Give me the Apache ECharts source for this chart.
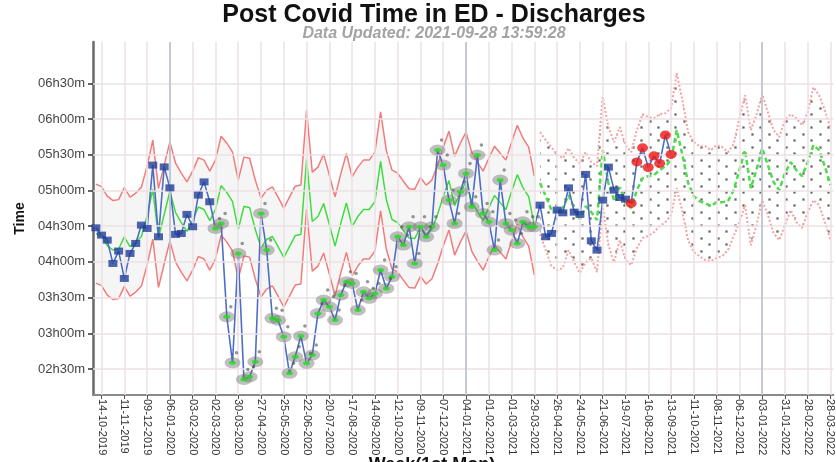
<!DOCTYPE html>
<html><head><meta charset="utf-8">
<script src="https://cdn.jsdelivr.net/npm/echarts@6.0.0/dist/echarts.min.js"></script>
<style>html,body{margin:0;padding:0;background:#fff}#c{width:836px;height:462px}</style>
</head><body><div id="c"></div>
<script>
// ---------- data ----------
const firstWeekUTC = [2019, 9, 7];      // 07-10-2019 (Monday)
const weekCount = 130;                   // up to 28-03-2022
const xTickLabels = ['14-10-2019','11-11-2019','09-12-2019','06-01-2020','03-02-2020','02-03-2020','30-03-2020','27-04-2020','25-05-2020','22-06-2020','20-07-2020','17-08-2020','14-09-2020','12-10-2020','09-11-2020','07-12-2020','04-01-2021','01-02-2021','01-03-2021','29-03-2021','26-04-2021','24-05-2021','21-06-2021','19-07-2021','16-08-2021','13-09-2021','11-10-2021','08-11-2021','06-12-2021','03-01-2022','31-01-2022','28-02-2022','28-03-2022'];
const yearMarkers = ['06-01-2020','04-01-2021','03-01-2022'];
const yTickMinutes = [150,180,210,240,270,300,330,360,390];

// weekly mean time in ED (minutes)
const actual = [268.6,262.5,258.3,238.7,249.1,226.1,247.1,255.5,270.9,268.1,
321.3,261.1,319.8,302.2,263.1,263.9,279.9,269.5,296.1,307.2,
290.5,268.1,272.3,193.9,155.3,247.1,141.3,143.5,156.1,280.7,
249.9,192.6,191.0,177.1,146.4,160.3,177.7,154.8,161.7,196.7,
207.9,202.3,191.1,212.1,223.3,221.9,199.5,214.9,209.4,213.5,
233.1,217.7,227.5,261.1,254.1,269.5,238.7,269.5,261.1,269.5,
333.9,321.3,291.9,272.3,298.9,314.3,286.3,329.7,280.7,273.7,
249.9,308.7,272.3,266.7,255.5,273.7,269.5,269.5,287.7,261.1,
263.9,283.5,281.2,302.2,281.8,279.9,313.5,257.7,249.9,291.9,
319.6,300.3,294.1,292.7,289.1,324.0,335.8,319.3,329.1,322.7,
346.5,330.3];
const lowSignalRange = [21, 77];    // grey halo + green dot points
const highSignalRange = [94, 101];  // red points

// historical control limits (weeks 0..77)
const histUpper = [305.3,303.2,295.2,291.5,292.3,302.5,294.4,297.8,302.8,320.4,
342.3,301.7,321.3,340.8,322.9,314.5,307.2,316.2,327.6,325.5,
316.2,325.5,345.6,339.7,332.2,308.7,328.0,327.1,308.7,293.6,
300.3,303.0,294.4,285.2,294.4,303.6,304.5,367.4,315.4,319.6,
330.5,312.9,294.7,313.7,331.1,311.4,319.6,325.5,325.5,332.2,
366.0,333.9,317.1,314.5,307.8,301.5,301.1,310.9,304.5,308.7,
321.3,336.4,349.8,328.8,339.7,349.0,332.2,323.8,316.2,327.1,
337.2,331.3,325.5,340.6,354.8,343.9,336.4,312.0];
const histMean = [263.8,261.7,253.7,250.0,250.8,261.0,252.9,256.3,261.3,278.9,
300.8,260.2,279.8,299.3,281.4,273.0,265.7,274.7,286.1,284.0,
274.7,284.0,304.1,298.2,290.7,267.2,286.5,285.6,267.2,252.1,
258.8,261.5,252.9,243.7,252.9,262.1,263.0,325.9,273.9,278.1,
289.0,271.4,253.2,272.2,289.6,269.9,278.1,284.0,284.0,290.7,
324.5,292.4,275.6,273.0,266.3,260.0,259.6,269.4,263.0,267.2,
279.8,294.9,308.3,287.3,298.2,307.5,290.7,282.3,274.7,285.6,
295.7,289.8,284.0,299.1,313.3,302.4,294.9,270.5];
const histLower = [222.2,220.1,212.1,208.4,209.2,219.4,211.3,214.7,219.7,237.3,
259.2,218.6,238.2,257.7,239.8,231.4,224.1,233.1,244.5,242.4,
233.1,242.4,262.5,256.6,249.1,225.6,244.9,244.0,225.6,210.5,
217.2,219.9,211.3,202.1,211.3,220.5,221.4,284.3,232.3,236.5,
247.4,229.8,211.6,230.6,248.0,228.3,236.5,242.4,242.4,249.1,
282.9,250.8,234.0,231.4,224.7,218.4,218.0,227.8,221.4,225.6,
238.2,253.3,266.7,245.7,256.6,265.9,249.1,240.7,233.1,244.0,
254.1,248.2,242.4,257.5,271.7,260.8,253.3,228.9];

// forecast limits (weeks 78..129)
const fcUpper = [349.0,342.3,336.4,329.7,327.1,335.5,327.1,322.9,332.2,323.8,
320.4,378.4,353.2,340.6,353.2,338.1,332.2,350.7,364.1,361.6,
360.7,364.1,364.9,369.1,398.5,375.8,349.0,340.6,337.2,337.2,
333.9,338.1,336.4,332.2,338.9,360.7,380.0,350.7,363.2,380.9,
365.8,350.7,344.8,359.0,364.1,360.7,354.9,365.8,386.8,380.0,
367.4,352.3];
const fcMean = [306.2,295.2,283.5,281.8,285.2,296.1,285.2,275.9,286.8,281.8,
275.1,333.9,306.2,291.9,302.8,289.4,285.2,300.3,310.3,312.0,
312.9,317.1,320.4,325.5,350.7,329.7,306.2,295.2,291.0,289.4,
286.8,290.2,290.2,291.0,300.3,317.1,333.9,302.0,317.1,335.5,
321.3,307.0,300.3,314.5,323.8,317.1,312.0,323.8,338.1,333.9,
320.4,304.5];
const fcLower = [263.3,249.9,236.5,233.1,234.8,249.9,239.8,230.6,239.8,243.2,
231.4,287.7,254.1,239.8,258.3,241.5,237.3,251.6,260.0,261.7,
265.0,270.1,273.4,279.3,302.0,281.8,258.3,248.2,244.9,241.5,
240.7,243.2,244.9,249.9,261.7,273.4,287.7,254.1,270.9,291.9,
279.3,264.2,258.3,270.9,283.5,273.4,268.4,281.8,291.9,287.7,
273.4,258.3];

// ---------- helpers ----------
const pad2 = n => (n < 10 ? '0' : '') + n;
const categories = [];
const t0 = Date.UTC(firstWeekUTC[0], firstWeekUTC[1], firstWeekUTC[2]);
for (let i = 0; i < weekCount; i++) {
  const d = new Date(t0 + i * 7 * 86400000);
  categories.push(pad2(d.getUTCDate()) + '-' + pad2(d.getUTCMonth() + 1) + '-' + d.getUTCFullYear());
}
const tickSet = new Set(xTickLabels);
const nulls = n => Array(n).fill(null);
const head = arr => arr.concat(nulls(weekCount - arr.length));
const tail = arr => nulls(weekCount - arr.length).concat(arr);
const fmtTime = v => { const h = Math.floor(v / 60); const m = Math.round(v - h * 60); return pad2(h) + 'h' + pad2(m) + 'm'; };
const inRange = (i, r) => i >= r[0] && i <= r[1];

const normalPts = [], lowPts = [], highPts = [];
actual.forEach((v, i) => {
  if (inRange(i, lowSignalRange)) lowPts.push([i, v]);
  else if (inRange(i, highSignalRange)) highPts.push([i, v]);
  else normalPts.push([i, v]);
});

function dotPattern() {
  const c = document.createElement('canvas');
  c.width = 17; c.height = 13;
  const g = c.getContext('2d');
  g.fillStyle = 'rgba(0,0,0,0.18)';
  g.fillRect(3, 3, 3, 3);
  g.fillRect(11, 9, 3, 3);
  g.fillStyle = '#222';
  g.fillRect(3.5, 3.5, 2, 2);
  g.fillRect(11.5, 9.5, 2, 2);
  return c;
}

const RED = '#f27b7b', GREEN = '#3fdc3f';
const line = (name, data, color, width, type, z) => ({
  name, type: 'line', data, symbol: 'none', z, silent: true,
  lineStyle: { color, width, type }, connectNulls: false
});

const chart = echarts.init(document.getElementById('c'), null, { renderer: 'canvas' });
chart.setOption({
  animation: false,
  textStyle: { fontFamily: 'Liberation Sans, Arial, sans-serif' },
  title: [
    { text: 'Post Covid Time in ED - Discharges', left: 434, top: 3, textAlign: 'center', padding: 0,
      textStyle: { fontSize: 25, fontWeight: 'bold', color: '#111' } },
    { text: 'Data Updated: 2021-09-28 13:59:28', left: 434, top: 26, textAlign: 'center', padding: 0,
      textStyle: { fontSize: 16, fontStyle: 'italic', fontWeight: 'bold', color: '#a3a3a3' } },
    { text: 'Week(1st Mon)', left: 432, top: 456, textAlign: 'center', padding: 0,
      textStyle: { fontSize: 18, fontWeight: 'bold', color: '#111' } }
  ],
  grid: { left: 93, right: 0, top: 42, bottom: 67 },
  xAxis: {
    type: 'category', data: categories, boundaryGap: true,
    axisLine: { show: true, lineStyle: { color: '#8a8a8a', width: 2 } },
    axisTick: { show: true, alignWithLabel: true, interval: (i, v) => tickSet.has(v), length: 4, lineStyle: { color: '#555' } },
    axisLabel: { interval: (i, v) => tickSet.has(v), rotate: -90, fontSize: 11, color: '#333', margin: 4 },
    splitLine: { show: false }
  },
  yAxis: {
    type: 'value', min: 128.2, max: 424.7,
    name: 'Time', nameLocation: 'middle', nameGap: 58,
    nameTextStyle: { fontSize: 14, fontWeight: 'bold', color: '#111' },
    axisLine: { show: true, lineStyle: { color: '#6a6a6a', width: 2.5 } },
    axisTick: { show: true, length: 5, customValues: yTickMinutes, lineStyle: { color: '#333', width: 1.5 } },
    axisLabel: { customValues: yTickMinutes, formatter: fmtTime, fontSize: 13, color: '#444', margin: 8 },
    splitLine: { show: false }
  },
  series: [
    // grid lines
    { type: 'line', data: nulls(weekCount), symbol: 'none', z: 2, silent: true,
      markLine: { silent: true, symbol: ['none', 'none'], label: { show: false }, animation: false,
        lineStyle: { color: '#ebe0e4', width: 1.5, type: 'solid' },
        data: yTickMinutes.map(v => ({ yAxis: v })).concat(xTickLabels.map(c => ({ xAxis: c }))) } },
    { type: 'line', data: nulls(weekCount), symbol: 'none', z: 2, silent: true,
      markLine: { silent: true, symbol: ['none', 'none'], label: { show: false }, animation: false,
        lineStyle: { color: '#b7bfcf', width: 1.5, type: 'solid' },
        data: yearMarkers.map(c => ({ xAxis: c })) } },
    // historical band
    { type: 'line', stack: 'hist', data: head(histLower), symbol: 'none', lineStyle: { opacity: 0 }, z: 1, silent: true },
    { type: 'line', stack: 'hist', data: head(histUpper.map((u, i) => +(u - histLower[i]).toFixed(1))), symbol: 'none',
      lineStyle: { opacity: 0 }, areaStyle: { color: 'rgba(0,0,0,0.055)' }, z: 1, silent: true },
    // forecast band
    { type: 'line', stack: 'fc', data: tail(fcLower), symbol: 'none', lineStyle: { opacity: 0 }, z: 1, silent: true },
    { type: 'line', stack: 'fc', data: tail(fcUpper.map((u, i) => +(u - fcLower[i]).toFixed(1))), symbol: 'none',
      lineStyle: { opacity: 0 }, areaStyle: { color: { image: dotPattern(), repeat: 'repeat' } }, z: 1, silent: true },
    // limits & mean
    line('Upper', head(histUpper), RED, 1.5, 'solid', 3),
    line('Lower', head(histLower), RED, 1.5, 'solid', 3),
    line('Mean', head(histMean), GREEN, 1.5, 'solid', 3),
    line('Upper fc', tail(fcUpper), '#f4a2a2', 2, 'dotted', 3),
    line('Lower fc', tail(fcLower), '#f4a2a2', 2, 'dotted', 3),
    line('Mean fc', tail(fcMean), '#4ddc4d', 2.5, [5, 3], 3),
    // actual
    line('Actual', head(actual), '#4d6ec4', 1.6, 'solid', 4),
    { type: 'scatter', data: normalPts, symbol: 'rect', symbolSize: [9, 7], z: 6, silent: true,
      itemStyle: { color: '#213e98' } },
    { type: 'scatter', data: lowPts, symbol: 'circle', symbolSize: [16, 11], z: 5, silent: true,
      itemStyle: { color: 'rgba(110,110,110,0.55)' } },
    { type: 'scatter', data: lowPts, symbol: 'circle', symbolSize: [7, 4], z: 6, silent: true,
      itemStyle: { color: '#22dd22' } },
    { type: 'scatter', data: lowPts, symbol: 'circle', symbolSize: 3.5, symbolOffset: [4, -10], z: 6, silent: true,
      itemStyle: { color: 'rgba(80,80,80,0.75)' } },
    { type: 'scatter', data: highPts, symbol: 'circle', symbolSize: [11, 9], z: 6, silent: true,
      itemStyle: { color: '#ee1515' } }
  ]
});
</script>
</body></html>
